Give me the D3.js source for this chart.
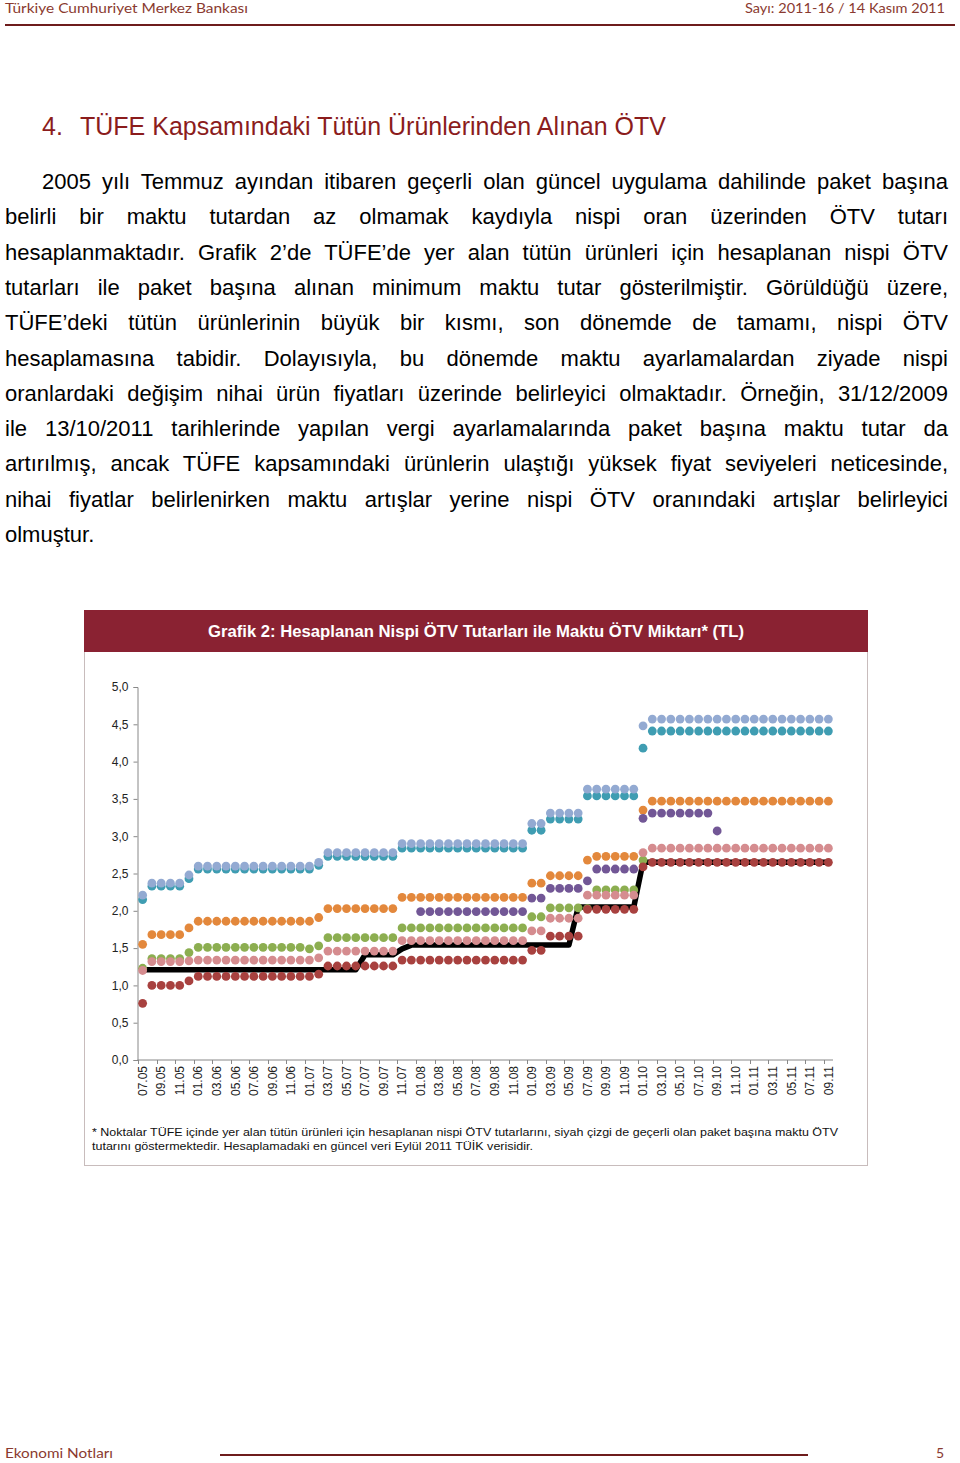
<!DOCTYPE html>
<meta charset="utf-8">
<script src="https://d3js.org/d3.v7.min.js"></script>
<style>
body { margin: 0; background: #fff; }
#page { position: relative; width: 960px; height: 1463px; overflow: hidden; font-family: "Liberation Sans", Arial, sans-serif; }
.ln { position: absolute; white-space: nowrap; text-align: justify; text-align-last: justify; font-size: 22px; line-height: 26px; color: #000; }
</style>
<div id="page"></div>
<script>
// categories: months 07.05 .. 09.11
const months = [
  "07.05","08.05","09.05","10.05","11.05","12.05",
  "01.06","02.06","03.06","04.06","05.06","06.06","07.06","08.06","09.06","10.06","11.06","12.06",
  "01.07","02.07","03.07","04.07","05.07","06.07","07.07","08.07","09.07","10.07","11.07","12.07",
  "01.08","02.08","03.08","04.08","05.08","06.08","07.08","08.08","09.08","10.08","11.08","12.08",
  "01.09","02.09","03.09","04.09","05.09","06.09","07.09","08.09","09.09","10.09","11.09","12.09",
  "01.10","02.10","03.10","04.10","05.10","06.10","07.10","08.10","09.10","10.10","11.10","12.10",
  "01.11","02.11","03.11","04.11","05.11","06.11","07.11","08.11","09.11"
];
const yTicks = [0, 0.5, 1, 1.5, 2, 2.5, 3, 3.5, 4, 4.5, 5];

// nispi ÖTV tutarlari (dots), one array per product
const teal = [
  2.15, 2.33, 2.33, 2.33, 2.33, 2.43,
  2.56, 2.56, 2.56, 2.56, 2.56, 2.56, 2.56, 2.56, 2.56, 2.56, 2.56, 2.56,
  2.56, 2.61, 2.73, 2.73, 2.73, 2.73, 2.73, 2.73, 2.73, 2.73, 2.84, 2.84,
  2.84, 2.84, 2.84, 2.84, 2.84, 2.84, 2.84, 2.84, 2.84, 2.84, 2.84, 2.84,
  3.08, 3.08, 3.23, 3.23, 3.23, 3.23, 3.54, 3.54, 3.54, 3.54, 3.54, 3.54,
  4.18, 4.41, 4.41, 4.41, 4.41, 4.41, 4.41, 4.41, 4.41, 4.41, 4.41, 4.41,
  4.41, 4.41, 4.41, 4.41, 4.41, 4.41, 4.41, 4.41, 4.41
];
const lightBlue = [
  2.21, 2.37, 2.37, 2.37, 2.37, 2.48,
  2.60, 2.60, 2.60, 2.60, 2.60, 2.60, 2.60, 2.60, 2.60, 2.60, 2.60, 2.60,
  2.60, 2.65, 2.78, 2.78, 2.78, 2.78, 2.78, 2.78, 2.78, 2.78, 2.90, 2.90,
  2.90, 2.90, 2.90, 2.90, 2.90, 2.90, 2.90, 2.90, 2.90, 2.90, 2.90, 2.90,
  3.17, 3.17, 3.31, 3.31, 3.31, 3.31, 3.63, 3.63, 3.63, 3.63, 3.63, 3.63,
  4.48, 4.57, 4.57, 4.57, 4.57, 4.57, 4.57, 4.57, 4.57, 4.57, 4.57, 4.57,
  4.57, 4.57, 4.57, 4.57, 4.57, 4.57, 4.57, 4.57, 4.57
];
const orange = [
  1.55, 1.68, 1.68, 1.68, 1.68, 1.77,
  1.86, 1.86, 1.86, 1.86, 1.86, 1.86, 1.86, 1.86, 1.86, 1.86, 1.86, 1.86,
  1.86, 1.91, 2.03, 2.03, 2.03, 2.03, 2.03, 2.03, 2.03, 2.03, 2.18, 2.18,
  2.18, 2.18, 2.18, 2.18, 2.18, 2.18, 2.18, 2.18, 2.18, 2.18, 2.18, 2.18,
  2.37, 2.37, 2.47, 2.47, 2.47, 2.47, 2.68, 2.73, 2.73, 2.73, 2.73, 2.73,
  3.35, 3.47, 3.47, 3.47, 3.47, 3.47, 3.47, 3.47, 3.47, 3.47, 3.47, 3.47,
  3.47, 3.47, 3.47, 3.47, 3.47, 3.47, 3.47, 3.47, 3.47
];
const purple = [
  null, null, null, null, null, null,
  null, null, null, null, null, null, null, null, null, null, null, null,
  null, null, null, null, null, null, null, null, null, null, null, null,
  1.99, 1.99, 1.99, 1.99, 1.99, 1.99, 1.99, 1.99, 1.99, 1.99, 1.99, 1.99,
  2.17, 2.17, 2.30, 2.30, 2.30, 2.30, 2.40, 2.56, 2.56, 2.56, 2.56, 2.56,
  3.24, 3.31, 3.31, 3.31, 3.31, 3.31, 3.31, 3.31, 3.07, null, null, null,
  null, null, null, null, null, null, null, null, null
];
const green = [
  1.23, 1.36, 1.36, 1.36, 1.36, 1.44,
  1.51, 1.51, 1.51, 1.51, 1.51, 1.51, 1.51, 1.51, 1.51, 1.51, 1.51, 1.51,
  1.49, 1.53, 1.64, 1.64, 1.64, 1.64, 1.64, 1.64, 1.64, 1.64, 1.77, 1.77,
  1.77, 1.77, 1.77, 1.77, 1.77, 1.77, 1.77, 1.77, 1.77, 1.77, 1.77, 1.77,
  1.92, 1.92, 2.04, 2.04, 2.04, 2.04, 2.03, 2.28, 2.28, 2.28, 2.28, 2.28,
  2.68, null, null, null, null, null, null, null, null, null, null, null,
  null, null, null, null, null, null, null, null, null
];
const pink = [
  1.20, 1.32, 1.32, 1.32, 1.32, 1.33,
  1.34, 1.34, 1.34, 1.34, 1.34, 1.34, 1.34, 1.34, 1.34, 1.34, 1.34, 1.34,
  1.34, 1.37, 1.46, 1.46, 1.46, 1.46, 1.46, 1.46, 1.46, 1.46, 1.60, 1.60,
  1.60, 1.60, 1.60, 1.60, 1.60, 1.60, 1.60, 1.60, 1.60, 1.60, 1.60, 1.60,
  1.73, 1.73, 1.90, 1.90, 1.90, 1.90, 2.21, 2.21, 2.21, 2.21, 2.21, 2.21,
  2.78, 2.84, 2.84, 2.84, 2.84, 2.84, 2.84, 2.84, 2.84, 2.84, 2.84, 2.84,
  2.84, 2.84, 2.84, 2.84, 2.84, 2.84, 2.84, 2.84, 2.84
];
const darkRed = [
  0.76, 1.00, 1.00, 1.00, 1.00, 1.06,
  1.12, 1.12, 1.12, 1.12, 1.12, 1.12, 1.12, 1.12, 1.12, 1.12, 1.12, 1.12,
  1.12, 1.15, 1.26, 1.26, 1.26, 1.26, 1.26, 1.26, 1.26, 1.26, 1.34, 1.34,
  1.34, 1.34, 1.34, 1.34, 1.34, 1.34, 1.34, 1.34, 1.34, 1.34, 1.34, 1.34,
  1.47, 1.47, 1.66, 1.66, 1.66, 1.66, 2.02, 2.02, 2.02, 2.02, 2.02, 2.02,
  2.59, 2.65, 2.65, 2.65, 2.65, 2.65, 2.65, 2.65, 2.65, 2.65, 2.65, 2.65,
  2.65, 2.65, 2.65, 2.65, 2.65, 2.65, 2.65, 2.65, 2.65
];
// maktu ÖTV (black line)
const maktu = [
  1.21, 1.21, 1.21, 1.21, 1.21, 1.21,
  1.21, 1.21, 1.21, 1.21, 1.21, 1.21, 1.21, 1.21, 1.21, 1.21, 1.21, 1.21,
  1.21, 1.21, 1.21, 1.21, 1.21, 1.21, 1.41, 1.41, 1.41, 1.41, 1.49, 1.54,
  1.54, 1.54, 1.54, 1.54, 1.54, 1.54, 1.54, 1.54, 1.54, 1.54, 1.54, 1.54,
  1.54, 1.54, 1.54, 1.54, 1.54, 2.05, 2.05, 2.05, 2.05, 2.05, 2.05, 2.05,
  2.65, 2.65, 2.65, 2.65, 2.65, 2.65, 2.65, 2.65, 2.65, 2.65, 2.65, 2.65,
  2.65, 2.65, 2.65, 2.65, 2.65, 2.65, 2.65, 2.65, 2.65
];

const dotSeries = [
  {vals: teal, color: "#3f9db2"},
  {vals: lightBlue, color: "#93aad2"},
  {vals: orange, color: "#e3883c"},
  {vals: purple, color: "#725796"},
  {vals: green, color: "#8cae50"},
  {vals: pink, color: "#d58c8f"},
  {vals: darkRed, color: "#a8413f"}
];

const bodyLines = [
  "2005 yılı Temmuz ayından itibaren geçerli olan güncel uygulama dahilinde paket başına",
  "belirli bir maktu tutardan az olmamak kaydıyla nispi oran üzerinden ÖTV tutarı",
  "hesaplanmaktadır. Grafik 2’de TÜFE’de yer alan tütün ürünleri için hesaplanan nispi ÖTV",
  "tutarları ile paket başına alınan minimum maktu tutar gösterilmiştir. Görüldüğü üzere,",
  "TÜFE’deki tütün ürünlerinin büyük bir kısmı, son dönemde de tamamı, nispi ÖTV",
  "hesaplamasına tabidir. Dolayısıyla, bu dönemde maktu ayarlamalardan ziyade nispi",
  "oranlardaki değişim nihai ürün fiyatları üzerinde belirleyici olmaktadır. Örneğin, 31/12/2009",
  "ile 13/10/2011 tarihlerinde yapılan vergi ayarlamalarında paket başına maktu tutar da",
  "artırılmış, ancak TÜFE kapsamındaki ürünlerin ulaştığı yüksek fiyat seviyeleri neticesinde,",
  "nihai fiyatlar belirlenirken maktu artışlar yerine nispi ÖTV oranındaki artışlar belirleyici",
  "olmuştur."
];

const page = d3.select("#page");
const svg = page.append("svg")
    .attr("width", 960)
    .attr("height", 1463)
    .style("position", "absolute")
    .style("left", 0).style("top", 0);

// page header / footer
const hdrColor = "#8a3a30";
svg.append("text").attr("x", 5).attr("y", 13).text("Türkiye Cumhuriyet Merkez Bankası")
    .style("font-family", "Lato, sans-serif").style("font-size", "14px").style("fill", hdrColor)
    .attr("textLength", 243).attr("lengthAdjust", "spacingAndGlyphs");
svg.append("text").attr("x", 945).attr("y", 13).attr("text-anchor", "end").text("Sayı: 2011-16 / 14 Kasım 2011")
    .style("font-family", "Lato, sans-serif").style("font-size", "14px").style("fill", hdrColor)
    .attr("textLength", 200).attr("lengthAdjust", "spacingAndGlyphs");
svg.append("line").attr("x1", 5).attr("x2", 955).attr("y1", 25).attr("y2", 25)
    .style("stroke", "#6e1c1c").style("stroke-width", 2);

svg.append("text").attr("x", 5).attr("y", 1458).text("Ekonomi Notları")
    .style("font-family", "Lato, sans-serif").style("font-size", "14px").style("fill", hdrColor)
    .attr("textLength", 108).attr("lengthAdjust", "spacingAndGlyphs");
svg.append("text").attr("x", 944).attr("y", 1458).attr("text-anchor", "end").text("5")
    .style("font-family", "Lato, sans-serif").style("font-size", "14px").style("fill", hdrColor);
svg.append("line").attr("x1", 220).attr("x2", 808).attr("y1", 1455).attr("y2", 1455)
    .style("stroke", "#6e1c1c").style("stroke-width", 2);

// section title
const secTitle = svg.append("g").style("font-size", "25px").style("fill", "#8b1c1c")
    .style("font-family", "'Liberation Sans', Arial, sans-serif");
secTitle.append("text").attr("x", 42).attr("y", 135).text("4.");
secTitle.append("text").attr("x", 80).attr("y", 135).text("TÜFE Kapsamındaki Tütün Ürünlerinden Alınan ÖTV");

// body text, justified line by line
bodyLines.forEach((t, i) => {
  const last = i === bodyLines.length - 1;
  const left = i === 0 ? 42 : 5;
  page.append("div").attr("class", "ln")
    .style("left", left + "px")
    .style("width", (948 - left) + "px")
    .style("top", (169 + i * 35.3) + "px")
    .style("text-align-last", last ? "left" : "justify")
    .text(t);
});

// chart box
svg.append("rect").attr("x", 84.5).attr("y", 610.5).attr("width", 783).attr("height", 555)
    .style("fill", "#fff").style("stroke", "#c8bcbc");
svg.append("rect").attr("x", 84).attr("y", 610).attr("width", 784).attr("height", 42)
    .style("fill", "#8a2232");
svg.append("text").attr("x", 476).attr("y", 637).attr("text-anchor", "middle")
    .text("Grafik 2: Hesaplanan Nispi ÖTV Tutarları ile Maktu ÖTV Miktarı* (TL)")
    .style("font-family", "'Liberation Sans', Arial, sans-serif").style("font-weight", "bold")
    .style("font-size", "16px").style("fill", "#fff")
    .attr("textLength", 536).attr("lengthAdjust", "spacingAndGlyphs");

const x = d3.scaleBand().domain(months).range([138, 833]);
const y = d3.scaleLinear().domain([0, 5]).range([1060, 687]);
const cx = m => x(m) + x.bandwidth() / 2;

const trFormat = d3.formatLocale({decimal: ",", thousands: ".", grouping: [3], currency: ["", ""]}).format(".1f");

const axisColor = "#888";
// y axis
const yAx = svg.append("g").attr("transform", "translate(137.5,0)")
    .call(d3.axisLeft(y).tickValues(yTicks).tickFormat(trFormat).tickSize(4).tickPadding(5));
yAx.select(".domain").style("stroke", axisColor);
yAx.selectAll(".tick line").style("stroke", axisColor);
yAx.selectAll(".tick text").style("font-family", "'Liberation Sans', Arial, sans-serif")
    .style("font-size", "12px").style("fill", "#222");

// x axis: ticks at every second category boundary
const xAx = svg.append("g");
xAx.append("line").attr("x1", 137.5).attr("x2", 833).attr("y1", 1060).attr("y2", 1060).style("stroke", axisColor);
months.forEach((m, i) => {
  if (i % 2 === 0) {
    xAx.append("line").attr("x1", Math.round(x(m)) + 0.5).attr("x2", Math.round(x(m)) + 0.5)
      .attr("y1", 1060).attr("y2", 1064).style("stroke", axisColor);
    xAx.append("text")
      .attr("transform", `translate(${cx(m)},1066) rotate(-90)`)
      .attr("text-anchor", "end").attr("dy", "0.35em")
      .text(m)
      .style("font-family", "'Liberation Sans', Arial, sans-serif")
      .style("font-size", "12px").style("fill", "#222");
  }
});

// maktu line (behind dots)
const line = d3.line().x((d, i) => cx(months[i])).y(d => y(d));
svg.append("path").datum(maktu).attr("d", line)
    .style("fill", "none").style("stroke", "#000").style("stroke-width", 5.5)
    .style("stroke-linejoin", "round");

// dots
dotSeries.forEach(s => {
  svg.append("g").selectAll("circle")
    .data(s.vals.map((v, i) => ({m: months[i], v})).filter(d => d.v != null))
    .join("circle")
      .attr("cx", d => cx(d.m))
      .attr("cy", d => y(d.v))
      .attr("r", 4.4)
      .style("fill", s.color);
});

// footnote
const fn = svg.append("g").style("font-family", "'Liberation Sans', Arial, sans-serif")
    .style("font-size", "11.5px").style("fill", "#111");
fn.append("text").attr("x", 92).attr("y", 1136)
    .text("* Noktalar TÜFE içinde yer alan tütün ürünleri için hesaplanan nispi ÖTV tutarlarını, siyah çizgi de geçerli olan paket başına maktu ÖTV")
    .attr("textLength", 746).attr("lengthAdjust", "spacingAndGlyphs");
fn.append("text").attr("x", 92).attr("y", 1150)
    .text("tutarını göstermektedir. Hesaplamadaki en güncel veri Eylül 2011 TÜİK verisidir.")
    .attr("textLength", 441).attr("lengthAdjust", "spacingAndGlyphs");
</script>
